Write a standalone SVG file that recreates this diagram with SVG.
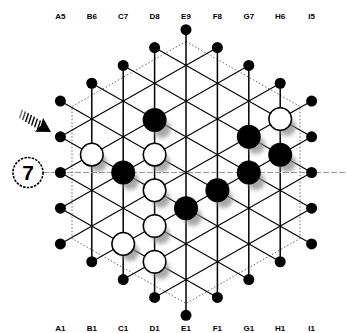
<svg xmlns="http://www.w3.org/2000/svg" width="347" height="333" viewBox="0 0 347 333">
<style>
.g{stroke:#000;stroke-width:1.1;fill:none}
.v{stroke:#000;stroke-width:1.5;fill:none}
.dot{fill:#000}
.b{fill:#000}
.w{fill:#fff;stroke:#000;stroke-width:1.5}
.sh{fill:#8a8a8a;opacity:0.75;filter:url(#blur)}
.lbl{font-family:"Liberation Sans",Arial,sans-serif;font-weight:bold;font-size:8px;text-anchor:middle;fill:#000}
</style>
<defs>
<filter id="blur" x="-50%" y="-50%" width="200%" height="200%"><feGaussianBlur stdDeviation="2.2"/></filter>
</defs>
<rect width="347" height="333" fill="#fff"/>
<g id="labels-top" class="lbl">
<text x="60.4" y="19">A5</text><text x="91.8" y="19">B6</text><text x="123.2" y="19">C7</text><text x="154.6" y="19">D8</text><text x="186" y="19">E9</text><text x="217.4" y="19">F8</text><text x="248.8" y="19">G7</text><text x="280.2" y="19">H6</text><text x="311.6" y="19">I5</text>
</g>
<g id="labels-bottom" class="lbl">
<text x="60.4" y="331">A1</text><text x="91.8" y="331">B1</text><text x="123.2" y="331">C1</text><text x="154.6" y="331">D1</text><text x="186" y="331">E1</text><text x="217.4" y="331">F1</text><text x="248.8" y="331">G1</text><text x="280.2" y="331">H1</text><text x="311.6" y="331">I1</text>
</g>
<g id="edge-hexagon">
<polygon points="186,41.5 300,106.5 300,238.5 186,303.5 72,238.5 72,106.5" fill="none" stroke="#666" stroke-width="1" stroke-dasharray="1.5 2"/>
</g>
<g id="connectors">
<line class="v" x1="91.8" y1="261.75" x2="91.8" y2="83.25"/>
<line class="v" x1="123.2" y1="279.6" x2="123.2" y2="65.4"/>
<line class="v" x1="154.6" y1="297.45" x2="154.6" y2="47.55"/>
<line class="v" x1="186" y1="315.3" x2="186" y2="29.7"/>
<line class="v" x1="217.4" y1="297.45" x2="217.4" y2="47.55"/>
<line class="v" x1="248.8" y1="279.6" x2="248.8" y2="65.4"/>
<line class="v" x1="280.2" y1="261.75" x2="280.2" y2="83.25"/>
<line class="g" x1="60.4" y1="136.8" x2="217.4" y2="47.55"/>
<line class="g" x1="60.4" y1="172.5" x2="248.8" y2="65.4"/>
<line class="g" x1="60.4" y1="208.2" x2="280.2" y2="83.25"/>
<line class="g" x1="60.4" y1="243.9" x2="311.6" y2="101.1"/>
<line class="g" x1="91.8" y1="261.75" x2="311.6" y2="136.8"/>
<line class="g" x1="123.2" y1="279.6" x2="311.6" y2="172.5"/>
<line class="g" x1="154.6" y1="297.45" x2="311.6" y2="208.2"/>
<line class="g" x1="154.6" y1="47.55" x2="311.6" y2="136.8"/>
<line class="g" x1="123.2" y1="65.4" x2="311.6" y2="172.5"/>
<line class="g" x1="91.8" y1="83.25" x2="311.6" y2="208.2"/>
<line class="g" x1="60.4" y1="101.1" x2="311.6" y2="243.9"/>
<line class="g" x1="60.4" y1="136.8" x2="280.2" y2="261.75"/>
<line class="g" x1="60.4" y1="172.5" x2="248.8" y2="279.6"/>
<line class="g" x1="60.4" y1="208.2" x2="217.4" y2="297.45"/>
<line x1="43" y1="172.5" x2="347" y2="172.5" stroke="#999" stroke-width="1" stroke-dasharray="6 2"/>
</g>
<g id="edge-dots" class="dot">
<circle cx="60.4" cy="243.9" r="5.5"/><circle cx="60.4" cy="208.2" r="5.5"/><circle cx="60.4" cy="172.5" r="5.5"/><circle cx="60.4" cy="136.8" r="5.5"/><circle cx="60.4" cy="101.1" r="5.5"/>
<circle cx="311.6" cy="243.9" r="5.5"/><circle cx="311.6" cy="208.2" r="5.5"/><circle cx="311.6" cy="172.5" r="5.5"/><circle cx="311.6" cy="136.8" r="5.5"/><circle cx="311.6" cy="101.1" r="5.5"/>
<circle cx="91.8" cy="261.75" r="5.5"/><circle cx="91.8" cy="83.25" r="5.5"/>
<circle cx="123.2" cy="279.6" r="5.5"/><circle cx="123.2" cy="65.4" r="5.5"/>
<circle cx="154.6" cy="297.45" r="5.5"/><circle cx="154.6" cy="47.55" r="5.5"/>
<circle cx="186" cy="315.3" r="5.5"/><circle cx="186" cy="29.7" r="5.5"/>
<circle cx="217.4" cy="297.45" r="5.5"/><circle cx="217.4" cy="47.55" r="5.5"/>
<circle cx="248.8" cy="279.6" r="5.5"/><circle cx="248.8" cy="65.4" r="5.5"/>
<circle cx="280.2" cy="261.75" r="5.5"/><circle cx="280.2" cy="83.25" r="5.5"/>
</g>
<g id="shadows">
<circle class="sh" cx="162" cy="129" r="9"/>
<circle class="sh" cx="130" cy="181" r="9"/>
<circle class="sh" cx="256" cy="145" r="9"/>
<circle class="sh" cx="287" cy="163" r="9"/>
<circle class="sh" cx="256" cy="181" r="9"/>
<circle class="sh" cx="224" cy="199" r="9"/>
<circle class="sh" cx="193" cy="217" r="9"/>
<circle class="sh" cx="287" cy="127" r="9"/>
<circle class="sh" cx="98" cy="163" r="9"/>
<circle class="sh" cx="161" cy="163" r="9"/>
<circle class="sh" cx="161" cy="199" r="9"/>
<circle class="sh" cx="161" cy="235" r="9"/>
<circle class="sh" cx="130" cy="252" r="9"/>
<circle class="sh" cx="161" cy="270" r="9"/>
</g>
<g id="piece-D6"><circle class="b" cx="154.6" cy="120" r="12"/></g>
<g id="piece-C4"><circle class="b" cx="123.2" cy="172.5" r="12"/></g>
<g id="piece-G5"><circle class="b" cx="248.8" cy="136.8" r="12"/></g>
<g id="piece-H4"><circle class="b" cx="280.2" cy="154.65" r="12"/></g>
<g id="piece-G4"><circle class="b" cx="248.8" cy="172.5" r="12"/></g>
<g id="piece-F4"><circle class="b" cx="217.4" cy="190.35" r="12"/></g>
<g id="piece-E4"><circle class="b" cx="186" cy="208.2" r="12"/></g>
<g id="piece-H5"><circle class="w" cx="280.2" cy="118.95" r="11.3"/></g>
<g id="piece-B4"><circle class="w" cx="91.8" cy="154.65" r="11.3"/></g>
<g id="piece-D5"><circle class="w" cx="154.6" cy="154.65" r="11.3"/></g>
<g id="piece-D4"><circle class="w" cx="154.6" cy="190.35" r="11.3"/></g>
<g id="piece-D3"><circle class="w" cx="154.6" cy="226.05" r="11.3"/></g>
<g id="piece-C2"><circle class="w" cx="123.2" cy="243.9" r="11.3"/></g>
<g id="piece-D2"><circle class="w" cx="154.6" cy="261.75" r="11.3"/></g>
<g id="arrow" transform="translate(51,132) rotate(31)">
<polygon points="0,0 -14,-8 -12,0 -14,8" fill="#000"/>
<g stroke="#000" stroke-width="1.4">
<line x1="-15" y1="-4.5" x2="-13" y2="4.5"/>
<line x1="-18.5" y1="-4.5" x2="-16.5" y2="4.5"/>
<line x1="-22" y1="-4.5" x2="-20" y2="4.5"/>
<line x1="-25.5" y1="-4.5" x2="-23.5" y2="4.5"/>
<line x1="-29" y1="-4.5" x2="-27" y2="4.5"/>
<line x1="-32.5" y1="-4.5" x2="-30.5" y2="4.5" stroke="#444"/>
<line x1="-36" y1="-4.5" x2="-34" y2="4.5" stroke="#777"/>
</g>
</g>
<g id="step-7">
<circle cx="28" cy="172.5" r="15" fill="#fff" stroke="#000" stroke-width="1.6" stroke-dasharray="2.5 1.2"/>
<text x="28" y="180" font-family="Liberation Sans,Arial,sans-serif" font-weight="bold" font-size="21" text-anchor="middle">7</text>
</g>
</svg>
